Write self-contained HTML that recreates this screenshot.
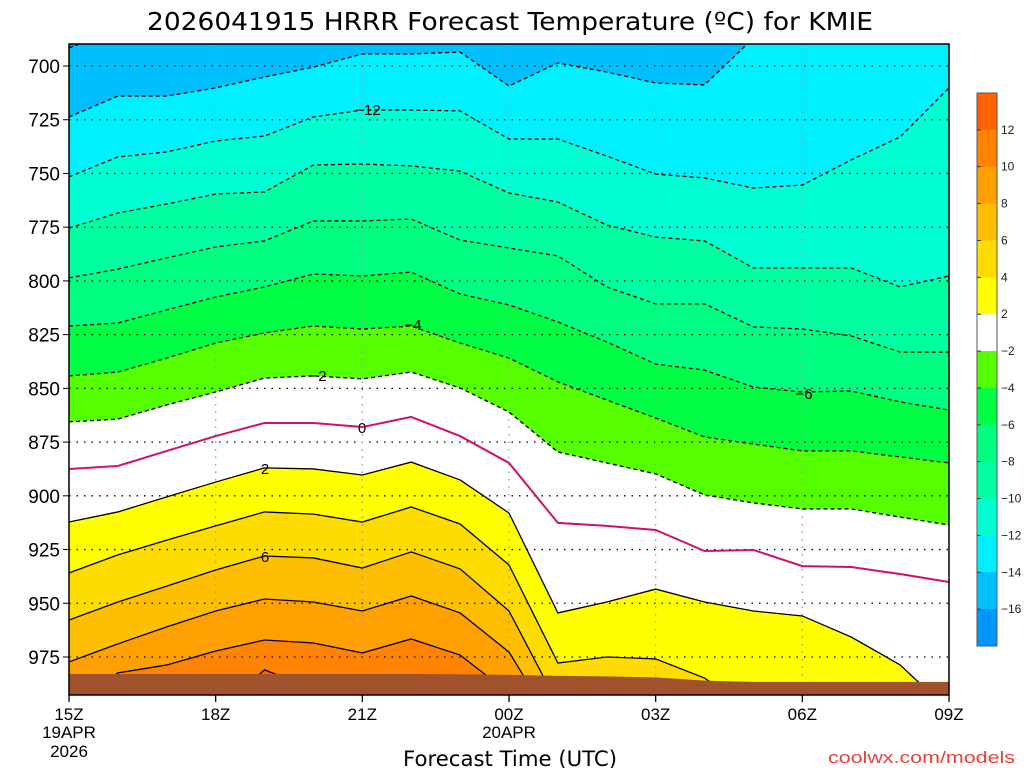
<!DOCTYPE html>
<html><head><meta charset="utf-8"><style>
body{margin:0;background:#fff;}
svg{display:block;font-family:"Liberation Sans",sans-serif;}
</style></head><body>
<svg id="chart" width="1024" height="768" viewBox="0 0 1024 768" xmlns="http://www.w3.org/2000/svg">
<rect width="1024" height="768" fill="#fff"/>
<text x="147" y="30" font-size="25" textLength="726" lengthAdjust="spacingAndGlyphs" fill="#000" font-family="DejaVu Sans, Liberation Sans, sans-serif">2026041915 HRRR Forecast Temperature (ºC) for KMIE</text>
<defs><clipPath id="plotclip"><rect x="69" y="44" width="880" height="651"/></clipPath></defs>
<g id="plot" clip-path="url(#plotclip)"></g>
<g id="axes"></g>
<text x="403" y="766" font-size="21" textLength="214" lengthAdjust="spacingAndGlyphs" font-family="DejaVu Sans, Liberation Sans, sans-serif">Forecast Time (UTC)</text>
<text x="828" y="763" font-size="17" textLength="187" lengthAdjust="spacingAndGlyphs" fill="#e8403c">coolwx.com/models</text>
</svg>
<script>
const hours = ['15Z','16Z','17Z','18Z','19Z','20Z','21Z','22Z','23Z','00Z','01Z','02Z','03Z','04Z','05Z','06Z','07Z','08Z','09Z'];
const levels = [-16,-14,-12,-10,-8,-6,-4,-2,0,2,4,6,8,10,12];
const contM16 = [691.6,683,680,680,680,680,680,680,680,680,680,680,680,680,680,680,680,680,680];
const contM14 = [723.7,714.0,714.0,710.2,705.1,700.5,694.4,694.4,693.5,709.3,698.6,702.8,707.9,708.8,687,675,675,675,675];
const contM12 = [751.6,742.3,740.0,734.9,732.6,723.7,720.5,720.5,720.9,734.0,734.0,741.9,750.3,752.1,756.8,755.4,743.7,733.0,710.2];
const contM10 = [775.4,768.4,764.2,759.6,758.6,746.1,745.6,746.5,748.9,759.1,763.3,774.0,779.6,781.4,794.0,794.0,794.0,802.8,797.7];
const contM8 = [798.6,794.5,789.3,784.2,781.4,772.1,772.1,771.2,781.0,784.7,788.4,802.8,810.7,810.7,821.4,822.4,825.6,833.1,833.1];
const contM6 = [821.0,819.6,813.5,807.5,802.8,796.8,797.7,795.9,806.1,811.2,819.1,828.4,838.7,841.5,849.4,851.7,851.2,856.3,860.1];
const contM4 = [844.2,842.4,835.9,828.9,824.2,821.0,822.4,821.0,828.9,835.9,847.0,855.4,863.8,872.6,875.9,879.1,879.1,881.9,884.7];
const contM2 = [865.6,864.3,857.7,851.7,845.2,844.2,845.6,842.4,849.8,861.0,879.6,884.7,889.8,899.6,903.3,906.1,906.1,909.9,913.6];
const cont0 = [887.5,886.1,879.1,872.2,866.1,866.1,868.0,863.3,872.2,884.7,912.6,914.0,915.9,925.7,925.2,932.7,933.1,936.4,940.1];
const cont2 = [912.2,907.5,900.5,893.6,887.0,887.5,890.3,884.3,892.6,908.0,954.5,949.4,943.4,949.4,953.6,955.9,965.7,978.7,1000];
const cont4 = [935.9,927.5,920.6,914.0,907.5,908.5,912.2,905.2,913.1,932.2,977.8,975.0,975.9,984.8,1000,1010,1010,1010,1010];
const cont6 = [957.8,949.4,942.0,934.5,928.0,928.9,933.6,926.1,934.0,953.6,997,1010,1010,1010,1010,1010,1010,1010,1010];
const cont8 = [977.3,968.9,961.0,953.6,948.0,949.4,953.6,946.6,954.5,972.7,1010,1010,1010,1010,1010,1010,1010,1010,1010];
const cont10 = [1000,982.4,978.7,972.2,967.1,968.5,973.1,966.6,974.1,991.7,1010,1010,1010,1010,1010,1010,1010,1010,1010];
const cont12 = [1000,1000,1000,1000,981.0,990,1000,1000,1000,1000,1010,1010,1010,1010,1010,1010,1010,1010,1010];
const surfP = [982.9,982.9,982.9,982.9,982.9,982.9,982.9,982.9,983.0,983.3,983.8,984.0,984.5,986.0,986.6,986.6,986.6,986.6,986.6];
const pTicks = [700,725,750,775,800,825,850,875,900,925,950,975];
const cbLabels = ['12','10','8','6','4','2','\u22122','\u22124','\u22126','\u22128','\u221210','\u221212','\u221214','\u221216'];
const cbColors = ['#ff6400','#ff8200','#ffa000','#ffbe00','#ffdc00','#ffff00','#ffffff','#55ff00','#00ff44','#00ff80','#00ffa0','#00ffd2','#00f0ff','#00bfff','#0096ff'];
const contours = [contM16,contM14,contM12,contM10,contM8,contM6,contM4,contM2,cont0,cont2,cont4,cont6,cont8,cont10,cont12];
const fillBelow = ['#00bfff','#00f0ff','#00ffd2','#00ffa0','#00ff80','#00ff44','#55ff00','#ffffff',null,'#ffff00','#ffdc00','#ffbe00','#ffa000','#ff8200','#ff6400'];

const NS='http://www.w3.org/2000/svg';
const X0=69,X1=949;
function xs(i){return X0+i*(X1-X0)/(hours.length-1);}
function ys(p){return 66+(p-700)*(657-66)/275;}
function mk(tag,attrs,parent){const e=document.createElementNS(NS,tag);for(const k in attrs)e.setAttribute(k,attrs[k]);parent.appendChild(e);return e;}
const plot=document.getElementById('plot');
const axes=document.getElementById('axes');

let bg=mk('rect',{x:X0,y:44,width:X1-X0,height:651,fill:'#0096ff'},plot);



contours.forEach((c,k)=>{
  if(!fillBelow[k])return;
  let pts=c.map((p,i)=>xs(i)+','+ys(p)).join(' ');
  pts+=' '+X1+',800 '+X0+',800';
  const poly=mk('polygon',{points:pts,fill:fillBelow[k]},plot);
  
  
});
pTicks.forEach(p=>{
  const l=mk('line',{x1:X0,x2:X1,y1:ys(p),y2:ys(p),stroke:'#000','stroke-width':1.3,'stroke-dasharray':'1.5 6'},plot);
  
  
});
for(let i=3;i<hours.length-1;i+=3){
  const l=mk('line',{x1:xs(i),x2:xs(i),y1:44,y2:695,stroke:'#999','stroke-width':1.3,'stroke-dasharray':'1.5 6'},plot);
  
  
}
contours.forEach((c,k)=>{
  const lv=levels[k];
  const pts=c.map((p,i)=>xs(i)+','+ys(p)).join(' ');
  const attrs={points:pts,fill:'none',stroke:lv===0?'#d0106a':'#000','stroke-width':lv===0?2:1.3};
  if(lv<0)attrs['stroke-dasharray']='4 3';
  const pl=mk('polyline',attrs,plot);
  
  
});
let gp=surfP.map((p,i)=>xs(i)+','+ys(p)).join(' ')+' '+X1+',700 '+X0+',700';
const gr=mk('polygon',{points:gp,fill:'#a0522d'},plot);


[['\u221212',368,115,'#00ffd2'],['\u22124',413,330,'#55ff00'],['\u22122',318,381,'#fff'],['0',362,433,'#fff'],['2',265,474,'#ffff00'],['6',265,562,'#ffbe00'],['\u22126',804,399,'#00ff44']].forEach(t=>{
  const tx=mk('text',{x:t[1],y:t[2],'font-size':15,'text-anchor':'middle',fill:'#000'},plot);
  tx.textContent=t[0];
  
  
});
const fr=mk('rect',{x:X0,y:44,width:X1-X0,height:651,fill:'none',stroke:'#000','stroke-width':1.5},axes);


pTicks.forEach(p=>{
  const t=mk('text',{x:60,y:ys(p)+7,'font-size':19,'text-anchor':'end'},axes);
  t.textContent=p;
  
  
  const tk=mk('line',{x1:X0-6,x2:X0,y1:ys(p),y2:ys(p),stroke:'#000','stroke-width':1},axes);
  
  
});
for(let i=0;i<hours.length;i+=3){
  const t=mk('text',{x:xs(i),y:720,'font-size':17,'text-anchor':'middle'},axes);
  t.textContent=hours[i];
  
  
  const tk=mk('line',{x1:xs(i),x2:xs(i),y1:695,y2:702,stroke:'#000','stroke-width':1.3},axes);
  
  
}
[['19APR',69,738],['2026',69,757],['20APR',509,738]].forEach(d=>{
  const t=mk('text',{x:d[1],y:d[2],'font-size':17,'text-anchor':'middle'},axes);
  t.textContent=d[0];
  
  
});
const cbTop=93,cbBot=646,cbH=(cbBot-cbTop)/cbColors.length;
cbColors.forEach((c,i)=>{
  const r=mk('rect',{x:977,y:cbTop+i*cbH,width:20,height:cbH+0.5,fill:c},axes);
  
  
});
const cbf=mk('rect',{x:977,y:cbTop,width:20,height:cbBot-cbTop,fill:'none',stroke:'#555','stroke-width':1},axes);


cbLabels.forEach((l,i)=>{
  const yy=cbTop+(i+1)*cbH;
  const tk=mk('line',{x1:977,x2:981,y1:yy,y2:yy,stroke:'#333'},axes);
  
  
  const t=mk('text',{x:1001,y:yy+4,'font-size':12,fill:'#222'},axes);
  t.textContent=l;
  
  
});
</script>
</body></html>
